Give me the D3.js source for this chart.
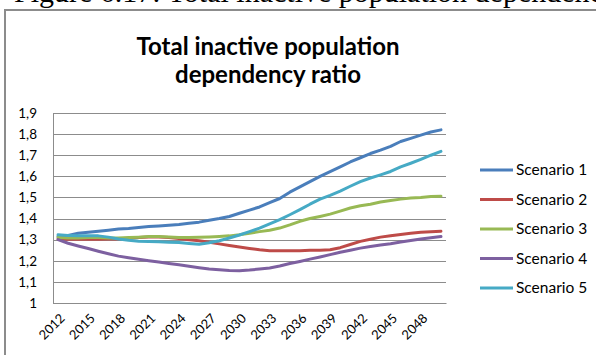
<!DOCTYPE html>
<html>
<head>
<meta charset="utf-8">
<script src="https://cdn.jsdelivr.net/npm/d3@7"></script>
<style>
  body { margin: 0; background: #fff; }
  svg { display: block; }
  .axis text { font-family: Lato, "Open Sans", sans-serif; fill: #000; }
</style>
</head>
<body>
<script>
var svgWidth = 596;
var svgHeight = 355;
var margin = {top: 113, left: 53, right: 150, bottom: 52};

var years = d3.range(2012, 2051);
var tickYears = [2012, 2015, 2018, 2021, 2024, 2027, 2030, 2033, 2036, 2039, 2042, 2045, 2048];
var yTicks = [1, 1.1, 1.2, 1.3, 1.4, 1.5, 1.6, 1.7, 1.8, 1.9];

var scenarioNames = ["Scenario 1", "Scenario 2", "Scenario 3", "Scenario 4", "Scenario 5"];
var colors = ["#4a7ebb", "#be4b48", "#98b954", "#7d60a0", "#46aac5"];

var scenario1 = [1.315, 1.32, 1.33, 1.335, 1.34, 1.345, 1.35, 1.353, 1.358, 1.362, 1.365, 1.368, 1.372,
  1.378, 1.383, 1.392, 1.40, 1.41, 1.425, 1.44, 1.455, 1.475, 1.495, 1.525, 1.55, 1.575, 1.60,
  1.622, 1.645, 1.668, 1.688, 1.708, 1.724, 1.742, 1.765, 1.78, 1.795, 1.81, 1.82];
var scenario2 = [1.303, 1.302, 1.302, 1.302, 1.302, 1.303, 1.303, 1.305, 1.31, 1.313, 1.313, 1.31, 1.305,
  1.30, 1.295, 1.288, 1.28, 1.272, 1.265, 1.258, 1.252, 1.248, 1.247, 1.247, 1.248, 1.25, 1.25,
  1.252, 1.262, 1.277, 1.292, 1.302, 1.312, 1.319, 1.325, 1.33, 1.335, 1.337, 1.34];
var scenario3 = [1.31, 1.308, 1.308, 1.31, 1.31, 1.308, 1.308, 1.31, 1.312, 1.315, 1.315, 1.313, 1.31,
  1.31, 1.312, 1.313, 1.315, 1.318, 1.323, 1.33, 1.338, 1.345, 1.355, 1.37, 1.387, 1.40, 1.41,
  1.421, 1.435, 1.45, 1.461, 1.468, 1.478, 1.486, 1.492, 1.497, 1.50, 1.505, 1.506];
var scenario4 = [1.30, 1.283, 1.27, 1.258, 1.245, 1.233, 1.222, 1.214, 1.207, 1.20, 1.194, 1.187, 1.181,
  1.174, 1.167, 1.161, 1.157, 1.154, 1.153, 1.156, 1.161, 1.166, 1.175, 1.187, 1.197, 1.208, 1.218,
  1.229, 1.24, 1.25, 1.26, 1.268, 1.275, 1.281, 1.289, 1.296, 1.303, 1.309, 1.315];
var scenario5 = [1.323, 1.32, 1.318, 1.318, 1.318, 1.312, 1.303, 1.297, 1.293, 1.291, 1.29, 1.288, 1.287,
  1.282, 1.278, 1.285, 1.295, 1.308, 1.322, 1.338, 1.355, 1.375, 1.395, 1.418, 1.442, 1.468, 1.492,
  1.51, 1.53, 1.553, 1.575, 1.592, 1.607, 1.623, 1.645, 1.662, 1.68, 1.70, 1.718];

var series = [scenario1, scenario2, scenario3, scenario4, scenario5];

var width = svgWidth - margin.left - margin.right;
var height = 303 - margin.top;

var svg = d3.select("body")
            .append("svg")
            .attr("width", svgWidth)
            .attr("height", svgHeight);

// caption of the document figure, cut off by the top edge as in the scan
svg.append("text")
   .attr("x", 14)
   .attr("y", 2)
   .attr("font-family", "'Liberation Serif', 'Times New Roman', serif")
   .attr("font-size", 30)
   .text("Figure 6.17: Total inactive population dependency ratio");

// chart frame (left and top edge)
svg.append("path")
   .attr("d", "M5,355V10H596")
   .attr("fill", "none")
   .attr("stroke", "#8c8c8c")
   .attr("stroke-width", 2);

// title
var title = svg.append("text")
               .attr("text-anchor", "middle")
               .attr("font-family", "Lato, 'Open Sans', sans-serif")
               .attr("font-weight", "bold")
               .attr("font-size", 24)
               .attr("fill", "#000");
title.append("tspan").attr("x", 268).attr("y", 55).text("Total inactive population");
title.append("tspan").attr("x", 268).attr("y", 83).text("dependency ratio");

var chartGroup = svg.append("g")
                    .attr("transform", `translate(${margin.left}, ${margin.top})`);

var xScale = d3.scalePoint()
               .domain(years)
               .range([0, width])
               .padding(0.5);

var yScale = d3.scaleLinear()
               .domain([1, 1.9])
               .range([height, 0]);

// gridlines
chartGroup.selectAll("line.grid")
          .data(yTicks)
          .enter()
          .append("line")
          .classed("grid", true)
          .attr("x1", 0)
          .attr("x2", width)
          .attr("y1", d => Math.round(yScale(d)) + 0.5)
          .attr("y2", d => Math.round(yScale(d)) + 0.5)
          .attr("stroke", "#8c8c8c")
          .attr("stroke-width", 1);

// y axis
var leftAxis = d3.axisLeft(yScale)
                 .tickValues(yTicks)
                 .tickSize(0)
                 .tickPadding(16)
                 .tickFormat(d => d === 1 ? "1" : d.toFixed(1).replace(".", ","));

var yAxis = chartGroup.append("g")
                      .classed("axis", true)
                      .call(leftAxis);
yAxis.select(".domain").remove();
yAxis.selectAll("text").attr("font-size", 13.5);

chartGroup.append("line")
          .attr("x1", 0.5).attr("x2", 0.5)
          .attr("y1", 0).attr("y2", height)
          .attr("stroke", "#8c8c8c");

// x axis
var bottomAxis = d3.axisBottom(xScale)
                   .tickValues(tickYears)
                   .tickSize(0);

var xAxis = chartGroup.append("g")
                      .classed("axis", true)
                      .attr("transform", `translate(0, ${height})`)
                      .call(bottomAxis);
xAxis.select(".domain").attr("stroke", "#8c8c8c");
xAxis.selectAll("text")
     .attr("font-size", 13)
     .attr("text-anchor", "end")
     .attr("dy", 0)
     .attr("transform", "translate(5, 14) rotate(-45)");

// lines
var line = d3.line()
             .x((d, i) => xScale(years[i]))
             .y(d => yScale(d));

chartGroup.selectAll("path.scenario")
          .data(series)
          .enter()
          .append("path")
          .classed("scenario", true)
          .attr("d", line)
          .attr("fill", "none")
          .attr("stroke", (d, i) => colors[i])
          .attr("stroke-width", 3)
          .attr("stroke-linejoin", "round")
          .attr("stroke-linecap", "round");

// legend
var legend = svg.append("g")
                .attr("transform", "translate(480, 170)");

var legendItems = legend.selectAll("g")
                        .data(scenarioNames)
                        .enter()
                        .append("g")
                        .attr("transform", (d, i) => `translate(0, ${i * 29.5})`);

legendItems.append("line")
           .attr("x1", 0)
           .attr("x2", 33)
           .attr("stroke", (d, i) => colors[i])
           .attr("stroke-width", 3);

legendItems.append("text")
           .attr("x", 36)
           .attr("dy", "0.35em")
           .attr("font-family", "Lato, 'Open Sans', sans-serif")
           .attr("font-size", 15.5)
           .text(d => d);
</script>
</body>
</html>
